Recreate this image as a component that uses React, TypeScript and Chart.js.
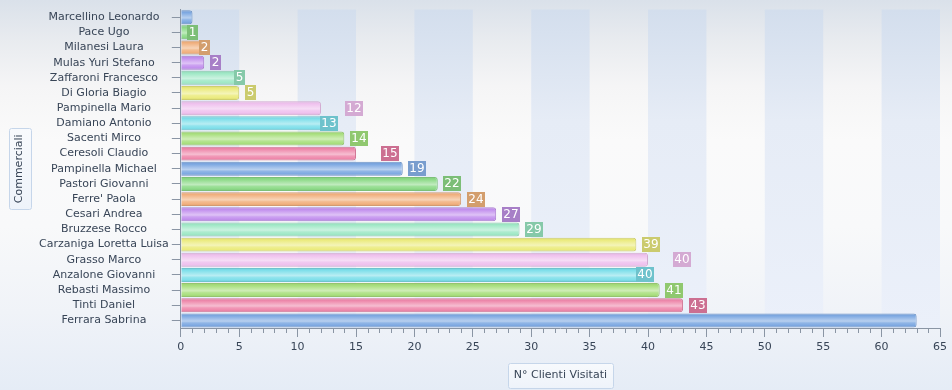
import React, { useEffect, useRef } from 'react';
import { Chart, registerables } from 'chart.js';

Chart.register(...registerables);

// ---------- data ----------
const categories = [
  'Marcellino Leonardo',
  'Pace Ugo',
  'Milanesi Laura',
  'Mulas Yuri Stefano',
  'Zaffaroni Francesco',
  'Di Gloria Biagio',
  'Pampinella Mario',
  'Damiano Antonio',
  'Sacenti Mirco',
  'Ceresoli Claudio',
  'Pampinella Michael',
  'Pastori Giovanni',
  "Ferre' Paola",
  'Cesari Andrea',
  'Bruzzese Rocco',
  'Carzaniga Loretta Luisa',
  'Grasso Marco',
  'Anzalone Giovanni',
  'Rebasti Massimo',
  'Tinti Daniel',
  'Ferrara Sabrina',
];

const values = [1, 1, 2, 2, 5, 5, 12, 13, 14, 15, 19, 22, 24, 27, 29, 39, 40, 40, 41, 43, 63];

// value-label placement relative to the bar end (collision-resolved in the original)
const labelAlign = [
  'none', 'left', 'left', 'right', 'left', 'right', 'far', 'left', 'right', 'far',
  'right', 'right', 'right', 'right', 'right', 'right', 'far', 'left', 'right', 'right', 'none',
];

const xMin = 0;
const xMax = 65;
const xStep = 5;

const xTitle = 'N° Clienti Visitati';
const yTitle = 'Commerciali';

// ---------- styles ----------
const barColors = ['#7EA9E2', '#8DDA88', '#F1B07E', '#C391EE', '#9FE8C6', '#EBEB7E', '#EFC1EE', '#7FDFEA', '#A9DF7E', '#EE88AB'];
const labelColors = ['#789DCE', '#7CBE77', '#D39E6D', '#A77FC7', '#86C9A9', '#CBCB6E', '#D4AAD3', '#6EC2CC', '#90C86F', '#CC6F91'];

const FONT = '"DejaVu Sans", Verdana, sans-serif';
const TEXT = '#384557';
const AXIS = '#8A95A4';

function hexToRgb(h: string) {
  const n = parseInt(h.slice(1), 16);
  return [(n >> 16) & 255, (n >> 8) & 255, n & 255];
}
function mix(h: string, target: number, t: number) {
  const [r, g, b] = hexToRgb(h);
  const f = (c: number) => Math.round(c + (target - c) * t);
  return `rgb(${f(r)},${f(g)},${f(b)})`;
}

const bandsPlugin = {
  id: 'bands',
  beforeDraw(chart: any) {
    const { ctx, chartArea, scales } = chart;
    if (!chartArea) return;
    const x = scales.x;
    ctx.save();
    const g = ctx.createLinearGradient(0, chartArea.top, 0, chartArea.bottom);
    g.addColorStop(0, '#D3DEED');
    g.addColorStop(0.35, '#E6ECF6');
    g.addColorStop(1, '#EBF0FA');
    ctx.fillStyle = g;
    for (let v = xMin; v < xMax; v += xStep * 2) {
      const a = x.getPixelForValue(v);
      const b = x.getPixelForValue(Math.min(v + xStep, xMax));
      ctx.fillRect(a, chartArea.top, b - a, chartArea.bottom - chartArea.top);
    }

    // title boxes
    const drawBox = (bx: number, by: number, bw: number, bh: number) => {
      const gg = ctx.createLinearGradient(0, by, 0, by + bh);
      gg.addColorStop(0, '#F8FAFD');
      gg.addColorStop(1, '#EEF3FA');
      ctx.fillStyle = gg;
      ctx.strokeStyle = '#C6D6EA';
      ctx.lineWidth = 1;
      ctx.beginPath();
      ctx.roundRect(Math.round(bx) + 0.5, Math.round(by) + 0.5, Math.round(bw), Math.round(bh), 2);
      ctx.fill();
      ctx.stroke();
    };
    ctx.font = `11px ${FONT}`;
    const xs = scales.x;
    const xtw = ctx.measureText(xTitle).width;
    const xcx = (chartArea.left + chartArea.right) / 2;
    const xcy = xs.bottom - 8 - 6.6;
    drawBox(xcx - xtw / 2 - 6, xcy - 12.5, xtw + 12, 25);
    const ys = scales.y;
    const ytw = ctx.measureText(yTitle).width;
    const ycx = ys.left + 13 + 6.6;
    const ycy = (chartArea.top + chartArea.bottom) / 2;
    drawBox(ycx - 11, ycy - ytw / 2 - 6, 22, ytw + 12);
    ctx.restore();
  },
};

const minorTicksPlugin = {
  id: 'minorTicks',
  afterDraw(chart: any) {
    const { ctx, chartArea, scales } = chart;
    const x = scales.x;
    ctx.save();
    ctx.strokeStyle = AXIS;
    ctx.lineWidth = 1;
    ctx.beginPath();
    for (let v = xMin; v <= xMax; v += 1) {
      if (v % xStep === 0) continue;
      const px = Math.round(x.getPixelForValue(v)) + 0.5;
      ctx.moveTo(px, chartArea.bottom);
      ctx.lineTo(px, chartArea.bottom + 5);
    }
    ctx.stroke();
    ctx.restore();
  },
};

const valueLabelPlugin = {
  id: 'valueLabels',
  afterDatasetsDraw(chart: any) {
    const { ctx } = chart;
    const meta = chart.getDatasetMeta(0);
    ctx.save();
    ctx.font = `12px ${FONT}`;
    ctx.textAlign = 'center';
    ctx.textBaseline = 'middle';
    meta.data.forEach((bar: any, i: number) => {
      const mode = labelAlign[i];
      if (mode === 'none') return;
      const text = String(values[i]);
      const w = Math.round(ctx.measureText(text).width + 3);
      const h = 15;
      const p = bar.x + 5.5;
      const left = mode === 'left' ? p - w : mode === 'far' ? p + w + 1 : p;
      const lx = Math.round(left);
      const ty = Math.round(bar.y - h / 2);
      ctx.fillStyle = labelColors[i % labelColors.length];
      ctx.fillRect(lx, ty, w, h);
      ctx.fillStyle = '#FFFFFF';
      ctx.fillText(text, lx + w / 2, ty + h / 2 + 0.5);
    });
    ctx.restore();
  },
};

export default function App() {
  const canvasRef = useRef<HTMLCanvasElement | null>(null);

  useEffect(() => {
    document.body.style.margin = '0';
    const canvas = canvasRef.current;
    if (!canvas) return;

    const chart = new Chart(canvas, {
      type: 'bar',
      data: {
        labels: categories,
        datasets: [
          {
            data: values,
            backgroundColor: (c: any) => {
              const base = barColors[c.dataIndex % barColors.length];
              const chart = c.chart;
              const ys = chart.scales?.y;
              if (!chart.chartArea || !ys || c.dataIndex === undefined) return base;
              const cy = ys.getPixelForValue(c.dataIndex);
              const half = ((chart.chartArea.bottom - chart.chartArea.top) / categories.length) * 0.92 / 2;
              const g = chart.ctx.createLinearGradient(0, cy - half, 0, cy + half);
              g.addColorStop(0, mix(base, 0, 0.08));
              g.addColorStop(0.18, base);
              g.addColorStop(0.42, mix(base, 255, 0.3));
              g.addColorStop(0.55, mix(base, 255, 0.45));
              g.addColorStop(0.68, mix(base, 255, 0.15));
              g.addColorStop(0.85, base);
              g.addColorStop(1, mix(base, 0, 0.1));
              return g;
            },
            borderColor: (c: any) => mix(barColors[c.dataIndex % barColors.length], 0, 0.12),
            borderWidth: 1,
            borderRadius: 3,
            barPercentage: 0.92,
            categoryPercentage: 1,
          },
        ],
      },
      options: {
        indexAxis: 'y',
        animation: false,
        responsive: true,
        maintainAspectRatio: false,
        layout: { padding: { top: 7, right: 12, left: 0, bottom: 0 } },
        plugins: {
          legend: { display: false },
          tooltip: { enabled: false },
        },
        scales: {
          x: {
            type: 'linear',
            min: xMin,
            max: xMax,
            ticks: {
              stepSize: xStep,
              padding: 4,
              color: TEXT,
              font: { family: FONT, size: 11 },
            },
            grid: { drawOnChartArea: false, drawTicks: true, tickLength: 9, color: AXIS },
            border: { display: true, color: AXIS },
            title: {
              display: true,
              text: xTitle,
              color: TEXT,
              font: { family: FONT, size: 11 },
              padding: { top: 10.6, bottom: 8 },
            },
          },
          y: {
            type: 'category',
            offset: true,
            ticks: {
              autoSkip: false,
              crossAlign: 'center',
              padding: 3,
              color: TEXT,
              font: { family: FONT, size: 11 },
            },
            grid: { drawOnChartArea: false, drawTicks: true, tickLength: 9, color: AXIS, offset: false },
            border: { display: true, color: AXIS },
            title: {
              display: true,
              text: yTitle,
              color: TEXT,
              font: { family: FONT, size: 11 },
              padding: { top: 13, bottom: 9.9 },
            },
          },
        },
      },
      plugins: [bandsPlugin, minorTicksPlugin, valueLabelPlugin],
    } as any);

    return () => chart.destroy();
  }, []);

  return (
    <div
      style={{
        position: 'relative',
        width: 952,
        height: 390,
        background:
          'linear-gradient(to bottom, #DAE1EA 0%, #E8EBEF 10%, #F5F5F6 22%, #FAFAFA 36%, #F8F9FA 58%, #F0F3F8 80%, #E5ECF6 100%)',
      }}
    >
      <canvas ref={canvasRef} />
    </div>
  );
}
